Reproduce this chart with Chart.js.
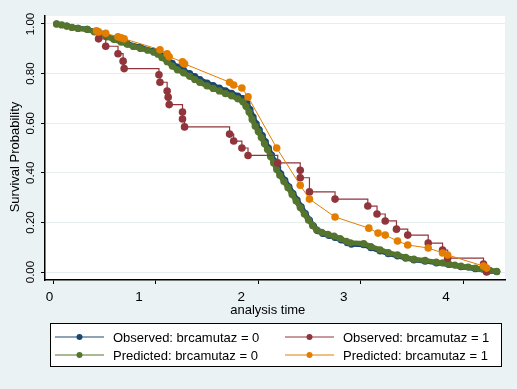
<!DOCTYPE html>
<html>
<head>
<meta charset="utf-8">
<script src="https://cdn.jsdelivr.net/npm/chart.js@4"></script>
<style>
body { margin: 0; background: #eaf2f3; }
canvas { display: block; }
</style>
</head>
<body>
<canvas id="myChart" width="517" height="389"></canvas>
<script>
// axis ticks
const xTicks = [0, 1, 2, 3, 4];
const yTicks = [0, 0.2, 0.4, 0.6, 0.8, 1];

// Observed: brcamutaz = 0 (Kaplan-Meier)
const obs0Time = [0.03, 0.13, 0.24, 0.33, 0.46, 0.59, 0.72, 0.85, 0.98, 1.06, 1.11, 1.16, 1.21, 1.27, 1.33, 1.38, 1.43, 1.50, 1.56, 1.62, 1.68, 1.74, 1.80, 1.85, 1.89, 1.92, 1.95, 1.98, 2.01, 2.04, 2.07, 2.10, 2.13, 2.16, 2.19, 2.22, 2.26, 2.30, 2.34, 2.38, 2.42, 2.46, 2.50, 2.54, 2.58, 2.63, 2.69, 2.75, 2.81, 2.87, 2.91, 3.03, 3.10, 3.19, 3.27, 3.36, 3.44, 3.52, 3.63, 3.74, 3.86, 3.98, 4.12, 4.26, 4.33];
const obs0Surv = [1.000, 0.992, 0.983, 0.979, 0.960, 0.940, 0.921, 0.905, 0.890, 0.872, 0.858, 0.842, 0.826, 0.814, 0.800, 0.788, 0.776, 0.762, 0.752, 0.742, 0.731, 0.721, 0.710, 0.700, 0.680, 0.655, 0.625, 0.598, 0.574, 0.550, 0.525, 0.500, 0.472, 0.446, 0.420, 0.396, 0.370, 0.344, 0.317, 0.290, 0.263, 0.236, 0.210, 0.186, 0.166, 0.155, 0.147, 0.139, 0.129, 0.118, 0.112, 0.110, 0.098, 0.085, 0.074, 0.065, 0.056, 0.049, 0.044, 0.037, 0.030, 0.021, 0.013, 0.005, 0.001];

// Observed: brcamutaz = 1 (Kaplan-Meier)
const obs1Time = [0.44, 0.51, 0.63, 0.68, 0.69, 1.03, 1.04, 1.11, 1.12, 1.13, 1.26, 1.26, 1.28, 1.72, 1.76, 1.84, 1.90, 2.19, 2.41, 2.41, 2.50, 2.75, 3.07, 3.16, 3.24, 3.35, 3.46, 3.66, 3.80, 3.85, 4.20, 4.23];
const obs1Surv = [0.940, 0.910, 0.880, 0.850, 0.820, 0.795, 0.765, 0.730, 0.705, 0.675, 0.645, 0.617, 0.585, 0.556, 0.528, 0.500, 0.470, 0.440, 0.410, 0.380, 0.323, 0.294, 0.266, 0.234, 0.206, 0.173, 0.149, 0.117, 0.089, 0.056, 0.032, 0.000];

// Predicted: brcamutaz = 0 (Cox)
const pred0Time = [0.03, 0.08, 0.13, 0.18, 0.24, 0.33, 0.40, 0.46, 0.52, 0.59, 0.66, 0.72, 0.78, 0.85, 0.92, 0.98, 1.02, 1.06, 1.11, 1.16, 1.21, 1.27, 1.33, 1.38, 1.43, 1.50, 1.56, 1.62, 1.68, 1.74, 1.80, 1.85, 1.88, 1.91, 1.94, 1.97, 2.00, 2.03, 2.06, 2.09, 2.12, 2.15, 2.18, 2.21, 2.25, 2.29, 2.33, 2.37, 2.41, 2.45, 2.49, 2.53, 2.57, 2.62, 2.68, 2.74, 2.80, 2.86, 2.90, 3.03, 3.10, 3.19, 3.27, 3.36, 3.44, 3.52, 3.63, 3.74, 3.80, 3.86, 3.92, 3.98, 4.05, 4.12, 4.19, 4.26, 4.33];
const pred0Surv = [1.000, 0.996, 0.991, 0.986, 0.982, 0.978, 0.968, 0.958, 0.948, 0.937, 0.927, 0.918, 0.909, 0.901, 0.894, 0.886, 0.878, 0.864, 0.848, 0.830, 0.815, 0.803, 0.789, 0.776, 0.764, 0.750, 0.740, 0.730, 0.719, 0.710, 0.698, 0.686, 0.668, 0.645, 0.615, 0.588, 0.566, 0.542, 0.518, 0.494, 0.466, 0.440, 0.413, 0.390, 0.365, 0.340, 0.313, 0.286, 0.260, 0.234, 0.210, 0.188, 0.170, 0.160, 0.152, 0.145, 0.135, 0.124, 0.118, 0.115, 0.103, 0.090, 0.078, 0.069, 0.059, 0.052, 0.047, 0.040, 0.037, 0.033, 0.028, 0.024, 0.020, 0.016, 0.012, 0.007, 0.003];

// Predicted: brcamutaz = 1 (Cox)
const pred1Time = [0.42, 0.44, 0.51, 0.63, 0.66, 0.69, 1.04, 1.11, 1.13, 1.26, 1.28, 1.72, 1.76, 1.84, 1.90, 2.18, 2.41, 2.50, 2.75, 3.08, 3.17, 3.24, 3.36, 3.46, 3.66, 3.80, 3.85, 4.20, 4.23];
const pred1Surv = [0.972, 0.968, 0.962, 0.948, 0.944, 0.940, 0.896, 0.880, 0.868, 0.847, 0.839, 0.765, 0.754, 0.742, 0.706, 0.500, 0.350, 0.294, 0.222, 0.177, 0.157, 0.149, 0.125, 0.109, 0.097, 0.077, 0.069, 0.024, 0.016];

const font = '"Liberation Sans", Arial, sans-serif';

function toPoints(xs, ys) {
    const pts = [];
    for (let i = 0; i < xs.length; i++) {
        pts.push({ x: xs[i], y: ys[i] });
    }
    return pts;
}

const background = {
    id: 'background',
    beforeDraw(chart) {
        const ctx = chart.ctx;
        const a = chart.chartArea;
        ctx.save();
        ctx.fillStyle = '#eaf2f3';
        ctx.fillRect(0, 0, chart.width, chart.height);
        ctx.fillStyle = '#ffffff';
        ctx.fillRect(a.left, a.top, a.right - a.left, a.bottom - a.top);
        ctx.restore();
    }
};

// Stata style legend: 2 x 2 grid in a box under the plot
const legendBox = {
    id: 'legendBox',
    afterDraw(chart) {
        const ctx = chart.ctx;
        ctx.save();
        ctx.fillStyle = '#ffffff';
        ctx.fillRect(50, 323, 452, 44);
        ctx.strokeStyle = '#000000';
        ctx.lineWidth = 1;
        ctx.strokeRect(50.5, 323.5, 451, 43);
        ctx.font = '13px ' + font;
        ctx.textBaseline = 'middle';
        chart.data.datasets.forEach((ds, i) => {
            const x0 = (i % 2) ? 285 : 55;
            const y = Math.floor(i / 2) ? 355 : 337;
            ctx.strokeStyle = ds.borderColor;
            ctx.lineWidth = 1;
            ctx.beginPath();
            ctx.moveTo(x0, y);
            ctx.lineTo(x0 + 49, y);
            ctx.stroke();
            ctx.fillStyle = ds.borderColor;
            ctx.beginPath();
            ctx.arc(x0 + 24.5, y, 3, 0, Math.PI * 2);
            ctx.fill();
            ctx.fillStyle = '#000000';
            ctx.fillText(ds.label, x0 + 58, y + 1);
        });
        ctx.restore();
    }
};

const ctx = document.getElementById('myChart').getContext('2d');
const myChart = new Chart(ctx, {
    type: 'line',
    data: {
        datasets: [{
            label: 'Observed: brcamutaz = 0',
            data: toPoints(obs0Time, obs0Surv),
            borderColor: '#1a476f',
            backgroundColor: '#1a476f',
            borderWidth: 5,
            pointRadius: 3.5,
            pointBorderWidth: 0,
            order: 4
        }, {
            label: 'Observed: brcamutaz = 1',
            data: toPoints(obs1Time, obs1Surv),
            borderColor: '#90353b',
            backgroundColor: '#90353b',
            borderWidth: 1.2,
            stepped: true,
            pointRadius: 3.8,
            pointBorderWidth: 0,
            order: 2
        }, {
            label: 'Predicted: brcamutaz = 0',
            data: toPoints(pred0Time, pred0Surv),
            borderColor: '#55752f',
            backgroundColor: '#55752f',
            borderWidth: 5,
            pointRadius: 3.6,
            pointBorderWidth: 0,
            order: 3
        }, {
            label: 'Predicted: brcamutaz = 1',
            data: toPoints(pred1Time, pred1Surv),
            borderColor: '#e37e00',
            backgroundColor: '#e37e00',
            borderWidth: 1,
            pointRadius: 3.8,
            pointBorderWidth: 0,
            order: 1
        }]
    },
    options: {
        responsive: false,
        animation: false,
        events: [],
        layout: {
            padding: { top: 16, right: 12, bottom: 71, left: 0 }
        },
        plugins: {
            legend: { display: false },
            tooltip: { enabled: false }
        },
        scales: {
            x: {
                type: 'linear',
                min: -0.083,
                max: 4.41,
                afterBuildTicks: (scale) => { scale.ticks = xTicks.map(v => ({ value: v })); },
                afterFit: (scale) => { scale.height = 38; },
                grid: { drawOnChartArea: false, tickLength: 4, tickColor: '#000000' },
                border: { color: '#000000', width: 1.5 },
                ticks: {
                    color: '#000000',
                    font: { family: font, size: 13.5 },
                    padding: 5,
                    labelOffset: -17,
                    maxRotation: 0,
                    callback: (v) => v === 0 ? '       0' : String(v)
                },
                title: {
                    display: true,
                    text: 'analysis time    ',
                    color: '#000000',
                    font: { family: font, size: 13 },
                    padding: { top: 0, bottom: 0 }
                }
            },
            y: {
                min: -0.032,
                max: 1.032,
                afterBuildTicks: (scale) => { scale.ticks = yTicks.map(v => ({ value: v })); },
                afterFit: (scale) => { scale.width = 45; },
                grid: { color: '#e6eef0', tickLength: 4, tickColor: '#000000' },
                border: { color: '#000000', width: 1.5 },
                ticks: {
                    color: '#000000',
                    font: { family: font, size: 11.5 },
                    minRotation: 90,
                    maxRotation: 90,
                    crossAlign: 'center',
                    padding: -1,
                    callback: (v) => v.toFixed(2)
                },
                title: {
                    display: true,
                    text: 'Survival Probability     ',
                    color: '#000000',
                    font: { family: font, size: 13 },
                    padding: { top: 8, bottom: 0 }
                }
            }
        }
    },
    plugins: [background, legendBox]
});
</script>
</body>
</html>
